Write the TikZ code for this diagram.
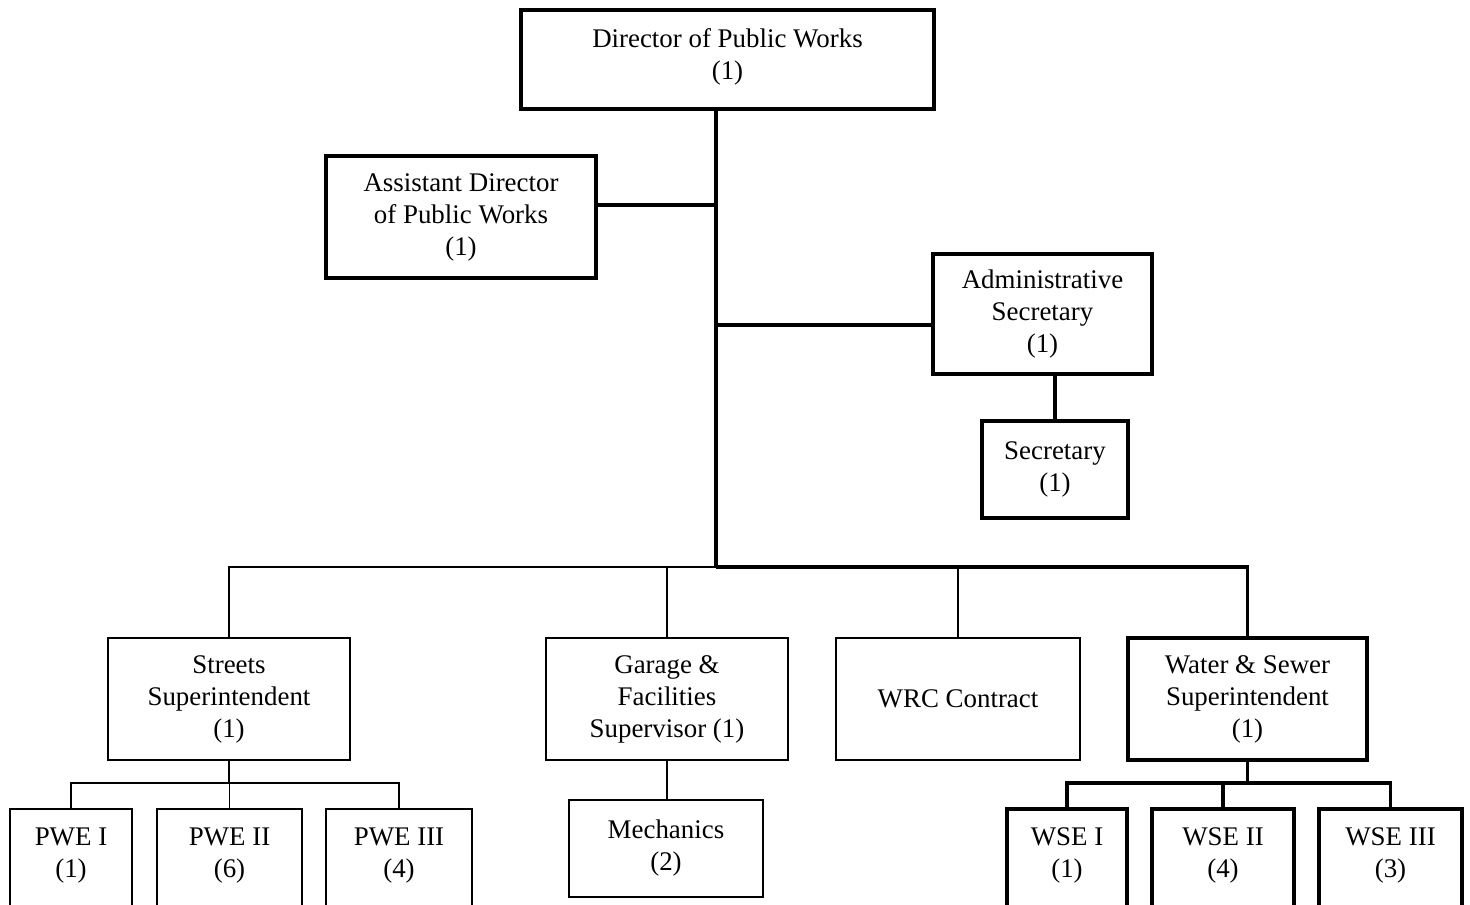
\documentclass[tikz,border=0pt]{standalone}
\usepackage{fontspec}
\setmainfont{Liberation Serif}
\newcommand{\orgfs}{\fontsize{26.9}{32}\selectfont}
\begin{document}
\begin{tikzpicture}[x=1pt,y=-1pt,
  box/.style={draw, line width=1.8pt, align=center, inner sep=0pt, font=\orgfs, fill=white},
  boldbox/.style={box, line width=3.4pt},
  thinln/.style={line width=1.8pt},
  thickln/.style={line width=3.4pt},
  line join=miter]
\useasboundingbox (0,0) rectangle (1470,905);
\path[clip] (0,0) rectangle (1470,905);
\fill[white] (0,0) rectangle (1470,905);

% junction coordinates
\coordinate (bus) at (716,567);
\coordinate (ja) at (716,205);
\coordinate (jb) at (716,325);
\coordinate (sb) at (230,783);
\coordinate (wb) at (1247,783);

% boxes
\path (727.5,59.5) node[boldbox, minimum width=413pt, minimum height=99pt, text depth=10pt] (dir) {Director of Public Works\\(1)};
\path (461,217) node[boldbox, minimum width=270pt, minimum height=122pt] (asst) {\rule{0pt}{8pt}Assistant Director\\of Public Works\\(1)};
\path (1042.5,314) node[boldbox, minimum width=219pt, minimum height=120pt] (adm) {\rule{0pt}{4pt}Administrative\\Secretary\\(1)};
\path (1055,469.5) node[boldbox, minimum width=146pt, minimum height=97pt] (sec) {Secretary\\(1)};

\path (229,699) node[box, minimum width=242pt, minimum height=122pt] (str) {\rule{0pt}{4pt}Streets\\Superintendent\\(1)};
\path (667,699) node[box, minimum width=242pt, minimum height=122pt] (gar) {Garage \&\\Facilities\\Supervisor (1)};
\path (958,699) node[box, minimum width=244pt, minimum height=122pt] (wrc) {WRC Contract};
\path (1247.5,699) node[boldbox, minimum width=239pt, minimum height=122pt] (ws) {Water \& Sewer\\Superintendent\\(1)};

\path (71,859.5) node[box, minimum width=122pt, minimum height=101pt, text depth=14pt] (pwe1) {PWE I\\(1)};
\path (229.5,859.5) node[box, minimum width=145pt, minimum height=101pt, text depth=14pt] (pwe2) {PWE II\\(6)};
\path (399,859.5) node[box, minimum width=146pt, minimum height=101pt, text depth=14pt] (pwe3) {PWE III\\(4)};
\path (666,848.5) node[box, minimum width=194pt, minimum height=97pt] (mech) {Mechanics\\(2)};
\path (1067,859.5) node[boldbox, minimum width=120pt, minimum height=101pt, text depth=14pt] (wse1) {WSE I\\(1)};
\path (1223,859.5) node[boldbox, minimum width=142pt, minimum height=101pt, text depth=14pt] (wse2) {WSE II\\(4)};
\path (1390.5,859.5) node[boldbox, minimum width=143pt, minimum height=101pt, text depth=14pt] (wse3) {WSE III\\(3)};

% trunk and side branches
\draw[thickln] (dir.south -| bus) -- (bus);
\draw[thickln] (ja -| asst.east) -- (ja);
\draw[thickln] (jb) -- (jb -| adm.west);
\draw[thickln] (adm.south -| sec.north) -- (sec.north);

% main bus
\draw[thinln] (str.north) |- (bus);
\draw[thickln] (bus) -| (ws.north);
\draw[thinln] (gar.north) -- (gar.north |- bus);
\draw[thinln] (wrc.north) -- (wrc.north |- bus);

% streets sub-tree
\draw[thinln] (str.south) -- (str.south |- sb);
\draw[thinln] (pwe1.north) |- (sb) -| (pwe3.north);
\draw[thinln] (pwe2.north) -- (pwe2.north |- sb);

% garage
\draw[thinln] (gar.south) -- (mech.north -| gar.south);

% water & sewer sub-tree
\draw[thickln] (ws.south) -- (ws.south |- wb);
\draw[thickln] (wse1.north) |- (wb) -| (wse3.north);
\draw[thickln] (wse2.north) -- (wse2.north |- wb);
\end{tikzpicture}
\end{document}
